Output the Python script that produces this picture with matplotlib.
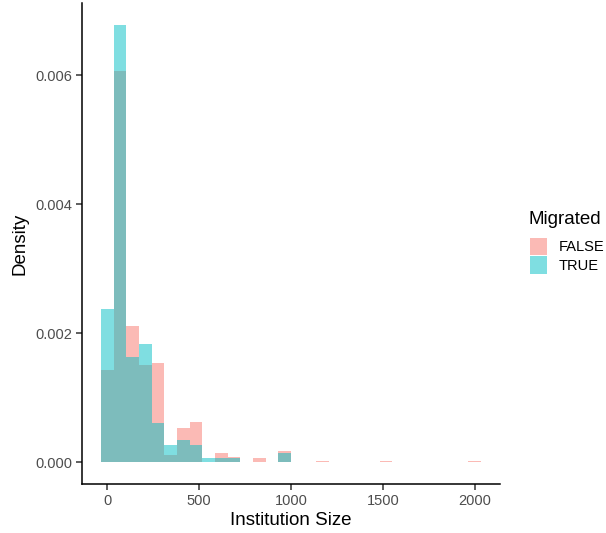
import matplotlib.pyplot as plt
from matplotlib.patches import Patch
import numpy as np

plt.rcParams["font.family"] = ["Liberation Sans", "DejaVu Sans"]

# histogram, 30 bins over 0..2000 (ggplot default), density per group
n_bins = 30
bin_width = 2000 / 29
bin_centers = np.arange(n_bins) * bin_width

false_density = [0.00143, 0.00606, 0.00211, 0.00151, 0.00153, 0.000113,
                 0.000537, 0.000629, 0.0, 0.000144, 0.000082, 0.0,
                 0.000066, 0.0, 0.000175, 0.0, 0.0, 0.00002, 0.0, 0.0,
                 0.0, 0.0, 0.000025, 0.0, 0.0, 0.0, 0.0, 0.0, 0.0, 0.000025]
true_density = [0.002375, 0.00678, 0.00163, 0.001828, 0.000614, 0.000268,
                0.000345, 0.000268, 0.000066, 0.000071, 0.000071, 0.0,
                0.0, 0.0, 0.00014, 0.0, 0.0, 0.0, 0.0, 0.0,
                0.0, 0.0, 0.0, 0.0, 0.0, 0.0, 0.0, 0.0, 0.0, 0.0]

groups = ["FALSE", "TRUE"]
colors = ["#F8766D", "#00BFC4"]

fig = plt.figure(figsize=(6.06, 5.33), dpi=100)
ax = fig.add_axes([82 / 606, 49 / 533, 418 / 606, 481 / 533])

for dens, col in zip([false_density, true_density], colors):
    ax.bar(bin_centers, dens, width=bin_width, color=col, alpha=0.5,
           linewidth=0, align="center")

x_lo, x_hi = -bin_width / 2, 2000 + bin_width / 2
pad = (x_hi - x_lo) * 0.05
ax.set_xlim(x_lo - pad, x_hi + pad)
ymax = max(true_density)
ax.set_ylim(-ymax * 0.05, ymax * 1.05)

ax.set_xticks([0, 500, 1000, 1500, 2000])
ax.set_yticks([0, 0.002, 0.004, 0.006])
ax.set_yticklabels(["0.000", "0.002", "0.004", "0.006"])

for s in ["top", "right"]:
    ax.spines[s].set_visible(False)
for s in ["left", "bottom"]:
    ax.spines[s].set_linewidth(1.1)
    ax.spines[s].set_color("black")
ax.tick_params(length=4, width=1.1, color="#333333", labelcolor="#4D4D4D",
               labelsize=10.5, pad=3)

ax.set_xlabel("Institution Size", fontsize=13.5, labelpad=3)
ax.set_ylabel("Density", fontsize=13.5, labelpad=5)

# legend: title as separate text so the gap above the keys matches ggplot
fig.text(529 / 606, 1 - 219 / 533, "Migrated", fontsize=13.5,
         ha="left", va="center")
handles = [Patch(facecolor=c, alpha=0.5, linewidth=0) for c in colors]
leg = fig.legend(handles, groups, loc="upper left",
                 bbox_to_anchor=(530 / 606, 1 - 238 / 533), frameon=False,
                 fontsize=10.5, handlelength=1.15, handleheight=1.42,
                 labelspacing=0.1, handletextpad=0.8,
                 borderpad=0, borderaxespad=0)

fig.savefig("out.png", dpi=100)
